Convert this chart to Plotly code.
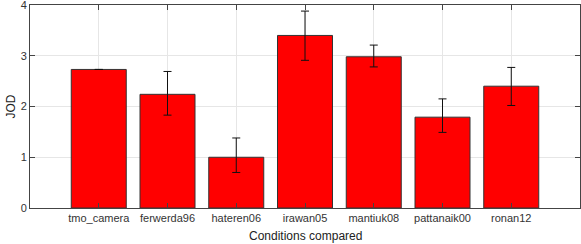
import plotly.graph_objects as go

categories = ["tmo_camera", "ferwerda96", "hateren06", "irawan05", "mantiuk08", "pattanaik00", "ronan12"]
jod = [2.73, 2.24, 1.00, 3.40, 2.98, 1.79, 2.40]
err_upper = [2.73, 2.69, 1.38, 3.88, 3.21, 2.15, 2.77]
err_lower = [2.73, 1.83, 0.70, 2.91, 2.78, 1.49, 2.02]
y_ticks = [0, 1, 2, 3, 4]

positions = list(range(1, len(categories) + 1))
plus = [u - v for u, v in zip(err_upper, jod)]
minus = [v - l for v, l in zip(jod, err_lower)]

FONT = "Liberation Sans, Arial, sans-serif"
W, H = 581, 244
ML, MR, MT, MB = 30, 1, 5, 36

fig = go.Figure()
fig.add_trace(go.Bar(
    x=positions, y=jod, width=0.8,
    marker=dict(color="#ff0000", line=dict(color="#333333", width=1)),
    error_y=dict(type="data", symmetric=False, array=plus, arrayminus=minus,
                 color="#111111", thickness=1, width=4),
))

axis_common = dict(showline=True, linecolor="#444444", linewidth=1, mirror="ticks",
                   ticks="inside", ticklen=5, tickcolor="#444444",
                   showgrid=True, gridcolor="#e6e6e6", gridwidth=1, zeroline=False,
                   automargin=False, ticklabeloverflow="allow",
                   tickfont=dict(family=FONT, size=11, color="#333333"))

plot_w = W - ML - MR
plot_h = H - MT - MB

fig.update_layout(
    width=W, height=H,
    margin=dict(l=ML, r=MR, t=MT, b=MB, autoexpand=False),
    plot_bgcolor="white", paper_bgcolor="white",
    showlegend=False,
    xaxis=dict(range=[0, 8], tickvals=positions, ticktext=categories, **axis_common),
    yaxis=dict(range=[0, 4], tickvals=y_ticks, **axis_common),
    annotations=[
        dict(text="Conditions compared", x=0.5, y=-(236 - (H - MB)) / plot_h,
             xref="paper", yref="paper",
             xanchor="center", yanchor="middle", showarrow=False,
             font=dict(family=FONT, size=12, color="#222222")),
        dict(text="JOD", x=(10 - ML) / plot_w, y=0.5, xref="paper", yref="paper",
             xanchor="center", yanchor="middle", showarrow=False, textangle=-90,
             font=dict(family=FONT, size=12, color="#222222")),
    ],
)

fig.write_html("out.html", config={"displayModeBar": False},
               post_script="document.body.style.margin='0';document.body.style.overflow='hidden';")
